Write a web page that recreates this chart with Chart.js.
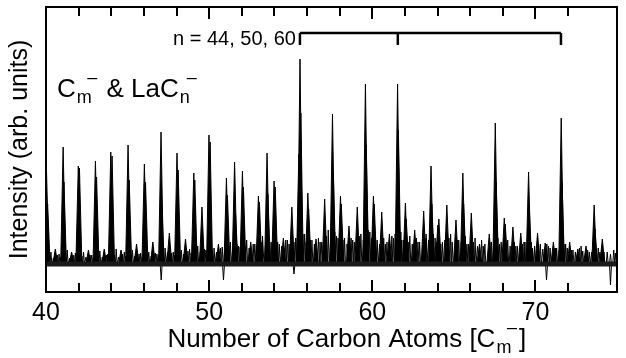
<!DOCTYPE html>
<html>
<head>
<meta charset="utf-8">
<script src="https://cdn.jsdelivr.net/npm/chart.js@4.4.1/dist/chart.umd.min.js"></script>
<style>
  html, body { margin: 0; padding: 0; background: #fff; }
  #wrap { width: 626px; height: 358px; }
</style>
</head>
<body>
<div id="wrap"><canvas id="spectrum_canvas" width="626" height="358"></canvas></div>
<script>
// peak positions in carbon-atom units, heights in arb. units
const carbonMass = [40.03, 40.1, 41.05, 41.1, 41.98, 42.05, 43.03, 43.1, 43.97, 44.05,
  45.03, 45.1, 46.03, 46.1, 47.05, 47.1, 48.03, 48.1, 49.06, 49.12, 49.99, 50.06,
  51.06, 51.12, 52.04, 52.1, 53.02, 53.08, 53.98, 54.05, 55.07, 56.05, 56.1, 57.08,
  58.05, 58.1, 59.08, 60.07, 60.12, 61.05, 62.03, 62.08, 63.15, 64.02, 64.08, 65.13,
  66.07, 67.17, 68.09, 68.15, 69.1, 70.13, 71.1, 72.1, 73.1, 74.1];
const carbonHeight = [94, 60, 117, 82, 98, 96, 103, 87, 112, 108,
  119, 84, 100, 82, 132, 57, 111, 94, 91, 84, 129, 122,
  86, 69, 93, 77, 68, 62, 83, 77, 57, 71, 55, 65,
  68, 60, 57, 68, 60, 30, 61, 45, 53, 39, 45, 44,
  51, 30, 46, 40, 31, 31, 22, 22, 18, 25];

const lanthanumMass = [40.57, 41.57, 42.6, 43.57, 44.6, 45.55, 46.55, 47.56, 48.55, 49.56,
  50.57, 51.56, 51.62, 52.55, 53.55, 53.6, 54.55, 55.5, 55.57, 55.62, 56.55, 57.56,
  57.61, 58.57, 59.58, 59.63, 60.58, 61.55, 61.6, 62.6, 63.6, 63.65, 64.57, 65.55,
  65.6, 66.57, 67.54, 67.59, 68.62, 69.58, 69.63, 70.6, 71.58, 71.63, 72.6, 73.6, 73.65];
const lanthanumHeight = [15, 12, 14, 15, 14, 20, 22, 31, 25, 57,
  20, 102, 50, 22, 111, 70, 26, 110, 205, 151, 25, 150,
  92, 38, 180, 119, 52, 180, 134, 34, 98, 60, 59, 91,
  60, 20, 141, 82, 37, 92, 52, 21, 146, 82, 15, 59, 35];

const minorMass = [40.3, 40.8, 41.3, 41.8, 42.3, 42.8, 43.3, 43.8, 44.3, 44.8, 45.3, 45.8,
  46.3, 46.8, 47.3, 47.8, 48.3, 48.8, 49.3, 49.8, 50.3, 50.8, 51.3, 51.8, 52.3, 52.8,
  53.3, 53.8, 54.3, 54.8, 55.3, 55.85, 56.3, 56.8, 57.3, 57.8, 58.3, 58.8, 59.3, 59.85,
  60.3, 60.8, 61.3, 61.8, 62.3, 62.8, 63.3, 63.85, 64.3, 64.8, 65.3, 65.8, 66.3, 66.8,
  67.3, 67.8, 68.3, 68.8, 69.3, 69.85, 70.3, 70.8, 71.3, 71.85, 72.3, 72.8, 73.3, 73.85,
  74.4, 74.8];
const minorHeight = [12, 10, 14, 11, 12, 9, 13, 10, 15, 12, 14, 11,
  12, 10, 16, 12, 14, 15, 18, 14, 16, 17, 22, 18, 24, 20,
  28, 22, 20, 24, 26, 30, 24, 22, 34, 28, 26, 24, 30, 32,
  24, 20, 26, 24, 28, 22, 30, 26, 22, 30, 24, 20, 26, 18,
  22, 20, 24, 18, 22, 16, 20, 18, 16, 20, 14, 18, 12, 16,
  12, 14];

// low clutter between the cluster peaks
const grassMass = [40.2, 40.45, 40.7, 40.9, 41.2, 41.45, 41.7, 41.9, 42.2, 42.45, 42.7,
  42.9, 43.2, 43.45, 43.7, 43.9, 44.2, 44.45, 44.7, 44.9, 45.2, 45.45, 45.7, 45.9,
  46.2, 46.45, 46.7, 46.9, 47.2, 47.45, 47.7, 47.9, 48.2, 48.45, 48.7, 48.9, 49.2,
  49.45, 49.7, 49.9, 50.2, 50.45, 50.7, 50.95, 51.2, 51.45, 51.7, 51.9, 52.2, 52.45,
  52.7, 52.9, 53.2, 53.45, 53.7, 53.9, 54.2, 54.45, 54.7, 54.9, 55.2, 55.4, 55.75,
  55.95, 56.2, 56.45, 56.7, 56.9, 57.2, 57.45, 57.7, 57.9, 58.2, 58.45, 58.7, 58.9,
  59.2, 59.45, 59.75, 59.95, 60.2, 60.45, 60.7, 60.9, 61.2, 61.4, 61.75, 61.9, 62.2,
  62.45, 62.7, 62.9, 63.3, 63.45, 63.75, 63.95, 64.2, 64.45, 64.7, 64.9, 65.2, 65.45,
  65.7, 65.9, 66.2, 66.45, 66.7, 66.9, 67.2, 67.45, 67.7, 67.9, 68.2, 68.45, 68.7,
  68.9, 69.2, 69.45, 69.75, 69.95, 70.2, 70.45, 70.7, 70.9, 71.2, 71.45, 71.75, 71.95,
  72.2, 72.45, 72.7, 72.9, 73.2, 73.45, 73.75, 73.95, 74.2, 74.6, 74.9];
const grassHeight = [8, 6, 9, 7, 8, 6, 9, 7, 8, 7, 9,
  6, 8, 7, 9, 8, 9, 7, 10, 8, 9, 8, 10, 7,
  10, 8, 11, 9, 10, 12, 11, 9, 12, 10, 13, 11, 14,
  12, 15, 13, 14, 12, 16, 14, 18, 16, 20, 17, 18, 16,
  20, 18, 22, 19, 24, 20, 22, 18, 24, 20, 22, 26, 30,
  22, 24, 20, 26, 22, 28, 24, 32, 26, 24, 20, 26, 22,
  28, 24, 34, 26, 24, 20, 26, 22, 28, 30, 32, 24, 22,
  20, 26, 22, 26, 24, 30, 22, 20, 24, 26, 22, 24, 22,
  28, 20, 22, 18, 24, 20, 22, 20, 26, 22, 20, 18, 22,
  18, 20, 17, 22, 18, 18, 15, 20, 16, 16, 14, 20, 16,
  14, 12, 16, 13, 14, 12, 15, 12, 12, 10, 11];

const dipMass = [47.06, 50.88, 55.2, 70.68, 74.6];
const dipDepth = [-16, -16, -10, -16, -21];

const labelledN = [44, 50, 60];
const laOffset = 138.905 / 12.011; // La mass in carbon units

const xTickStep = 2;
const fontFamily = '"Liberation Sans", Arial, Helvetica, sans-serif';

// turn a list of peaks into spikes on a flat trace
function spikes(massLists, heightLists, halfWidth) {
  const peaks = [];
  massLists.forEach((ms, k) => ms.forEach((m, i) => peaks.push([m, heightLists[k][i]])));
  peaks.sort((a, b) => a[0] - b[0]);
  const pts = [{ x: 40, y: 0 }];
  peaks.forEach(p => {
    pts.push({ x: p[0] - halfWidth, y: 0 });
    pts.push({ x: p[0], y: p[1] });
    pts.push({ x: p[0] + halfWidth, y: 0 });
  });
  pts.push({ x: 75, y: 0 });
  return pts;
}

// text with a subscript and a raised minus after it
function drawSpecies(ctx, x, y, parts, size) {
  parts.forEach(part => {
    ctx.font = size + 'px ' + fontFamily;
    ctx.fillText(part.text, x, y);
    x += ctx.measureText(part.text).width;
    if (part.sub) {
      const subSize = Math.round(size * 0.68);
      ctx.font = subSize + 'px ' + fontFamily;
      ctx.fillText(part.sub, x + 1, y + size * 0.22);
      const w = ctx.measureText(part.sub).width;
      ctx.fillText('\u2013', x + 1 + w * 0.7, y - size * 0.52);
      x += w + ctx.measureText('\u2013').width * 0.75 + 1;
    }
  });
  return x;
}

const framePlugin = {
  id: 'frame',
  afterDraw(chart) {
    const ctx = chart.ctx;
    const a = chart.chartArea;
    const xs = chart.scales.x;
    ctx.save();
    ctx.strokeStyle = '#000';
    ctx.fillStyle = '#000';
    ctx.lineWidth = 2;
    ctx.strokeRect(a.left, a.top, a.right - a.left, a.bottom - a.top);

    // inward ticks on bottom and top
    xs.ticks.forEach(t => {
      const px = Math.round(xs.getPixelForValue(t.value));
      const len = t.value % 10 === 0 ? 12 : 9;
      ctx.beginPath();
      ctx.moveTo(px, a.bottom);
      ctx.lineTo(px, a.bottom - len);
      ctx.moveTo(px, a.top);
      ctx.lineTo(px, a.top + len);
      ctx.stroke();
    });

    // bracket for LaC_n with n = 44, 50, 60
    const bx = labelledN.map(n => xs.getPixelForValue(n + laOffset));
    const by = 33;
    ctx.lineWidth = 2.5;
    ctx.beginPath();
    ctx.moveTo(bx[0], by);
    ctx.lineTo(bx[bx.length - 1], by);
    bx.forEach(x => {
      ctx.moveTo(x, by);
      ctx.lineTo(x, by + 12);
    });
    ctx.stroke();

    ctx.textBaseline = 'alphabetic';
    ctx.textAlign = 'right';
    ctx.font = '20px ' + fontFamily;
    ctx.fillText('n = ' + labelledN.join(', '), bx[0] - 4, 45);

    ctx.textAlign = 'left';
    drawSpecies(ctx, 57, 97, [
      { text: 'C', sub: 'm' },
      { text: ' & LaC', sub: 'n' }
    ], 26);

    // x axis title
    const parts = [{ text: 'Number of Carbon Atoms [C', sub: 'm' }, { text: ']' }];
    ctx.font = '26px ' + fontFamily;
    let w = ctx.measureText('Number of Carbon Atoms [C]').width;
    ctx.font = '18px ' + fontFamily;
    w += ctx.measureText('m').width + 6;
    const cx = (a.left + a.right) / 2 + 14;
    drawSpecies(ctx, cx - w / 2, 347, parts, 26);
    ctx.restore();
  }
};

const ctx = document.getElementById('spectrum_canvas').getContext('2d');
const spectrumChart = new Chart(ctx, {
  type: 'line',
  data: {
    datasets: [{
      label: 'baseline',
      data: [{ x: 40, y: 0 }, { x: 75, y: 0 }],
      borderColor: '#1a1a1a',
      borderWidth: 5,
      pointRadius: 0
    }, {
      label: 'clutter',
      data: spikes([minorMass, grassMass, dipMass], [minorHeight, grassHeight, dipDepth], 0.06),
      borderColor: '#000',
      borderWidth: 1,
      pointRadius: 0,
      tension: 0,
      fill: false
    }, {
      label: 'clusters',
      data: spikes([carbonMass, lanthanumMass], [carbonHeight, lanthanumHeight], 0.15),
      borderColor: '#000',
      backgroundColor: '#000',
      borderWidth: 1,
      pointRadius: 0,
      tension: 0,
      fill: 'origin'
    }]
  },
  options: {
    responsive: false,
    animation: false,
    layout: { padding: { top: 7, right: 9, left: 0, bottom: 0 } },
    plugins: {
      legend: { display: false },
      tooltip: { enabled: false }
    },
    scales: {
      x: {
        type: 'linear',
        min: 40,
        max: 75,
        grid: { display: true, drawOnChartArea: false, drawTicks: false },
        border: { display: false },
        ticks: {
          stepSize: xTickStep,
          autoSkip: false,
          maxRotation: 0,
          padding: 6,
          color: '#000',
          font: { family: fontFamily, size: 25 },
          callback: v => (v % 10 === 0 ? String(v) : '')
        },
        afterFit: s => { s.height = 66; }
      },
      y: {
        min: -28,
        max: 257,
        grid: { display: false },
        border: { display: false },
        ticks: { display: false },
        title: {
          display: true,
          text: 'Intensity (arb. units)',
          color: '#000',
          font: { family: fontFamily, size: 25 },
          padding: { top: 5, bottom: 0 }
        },
        afterFit: s => { s.width = 46; }
      }
    }
  },
  plugins: [framePlugin]
});
</script>
</body>
</html>
